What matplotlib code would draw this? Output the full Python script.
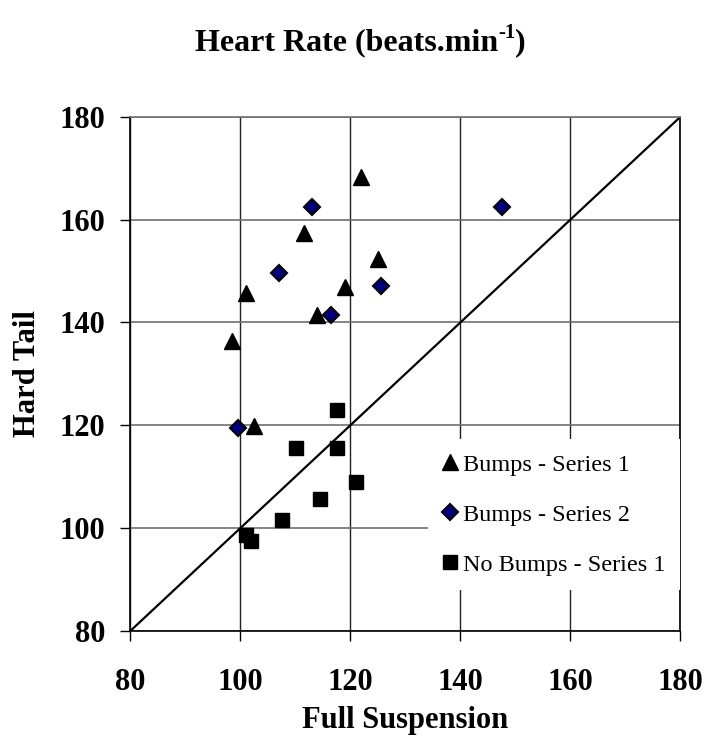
import matplotlib.pyplot as plt
import numpy as np

plt.rcParams['font.family'] = ['Liberation Serif', 'DejaVu Serif']

# Bumps - Series 1 (triangles)
s1_x = [122.0, 111.5, 125.0, 119.0, 101.0, 114.0, 98.5, 102.5]
s1_y = [168.3, 157.4, 152.4, 146.8, 145.8, 141.5, 136.4, 119.9]

# Bumps - Series 2 (diamonds)
s2_x = [113.1, 107.0, 125.6, 116.5, 99.5, 147.5]
s2_y = [162.5, 149.6, 147.0, 141.5, 119.5, 162.5]

# No Bumps - Series 1 (squares)
nb_x = [117.5, 110.1, 117.5, 121.0, 114.5, 107.5, 101.0, 102.0]
nb_y = [123.0, 115.6, 115.6, 109.0, 105.6, 101.6, 98.6, 97.5]

ticks = [80, 100, 120, 140, 160, 180]
identity = [80, 180]

fig = plt.figure(figsize=(7.09, 7.55), dpi=100)
ax = fig.add_axes([0.1838, 0.1643, 0.7760, 0.6811])

ax.plot(identity, identity, color='black', lw=1.6, zorder=2)
ax.plot(s1_x, s1_y, ls='none', marker='^', ms=11, color='black', label='Bumps - Series 1', zorder=3)
ax.plot(s2_x, s2_y, ls='none', marker='D', ms=8, mfc='#000080', mec='black', mew=1.5,
        label='Bumps - Series 2', zorder=3)
ax.plot(nb_x, nb_y, ls='none', marker='s', ms=10.5, color='black', label='No Bumps - Series 1', zorder=3)

ax.set_xlim(80, 180)
ax.set_ylim(80, 180)
ax.set_xticks(ticks)
ax.set_yticks(ticks)
ax.xaxis.grid(True, color='#202020', lw=1)
ax.yaxis.grid(True, color='#707070', lw=1.2)
ax.set_axisbelow(True)
for side in ['left', 'bottom', 'right']:
    ax.spines[side].set_color('black')
    ax.spines[side].set_linewidth(1.2)
ax.spines['top'].set_color('#707070')
ax.spines['top'].set_linewidth(1.2)

ax.tick_params(axis='x', direction='out', length=7, width=1, pad=20, labelsize=22)
ax.tick_params(axis='y', direction='out', length=7, width=1, pad=11, labelsize=22)
for lab in ax.get_xticklabels() + ax.get_yticklabels():
    lab.set_fontweight('bold')

ax.set_xlabel('Full Suspension', fontsize=22, fontweight='bold', labelpad=6)
ax.set_ylabel('Hard Tail', fontsize=22, fontweight='bold', labelpad=13)

# title with a small raised "-1"
renderer = fig.canvas.get_renderer()
t1 = fig.text(0.275, 0.933, 'Heart Rate (beats.min', ha='left', va='baseline',
              fontsize=23, fontweight='bold')
bb = t1.get_window_extent(renderer).transformed(fig.transFigure.inverted())
t2 = fig.text(bb.x1, 0.933 + 0.017, '-1', ha='left', va='baseline', fontsize=15, fontweight='bold')
bb2 = t2.get_window_extent(renderer).transformed(fig.transFigure.inverted())
fig.text(bb2.x1, 0.933, ')', ha='left', va='baseline', fontsize=23, fontweight='bold')

leg = ax.legend(loc='lower right', bbox_to_anchor=(1.0, 0.079), borderaxespad=0,
                fontsize=17.5, frameon=True,
                fancybox=False, edgecolor='none', facecolor='white', framealpha=1,
                handlelength=0.6, handletextpad=0.27, labelspacing=1.15, borderpad=0.6,
                markerscale=1.0)

plt.savefig('out.png', dpi=100)
